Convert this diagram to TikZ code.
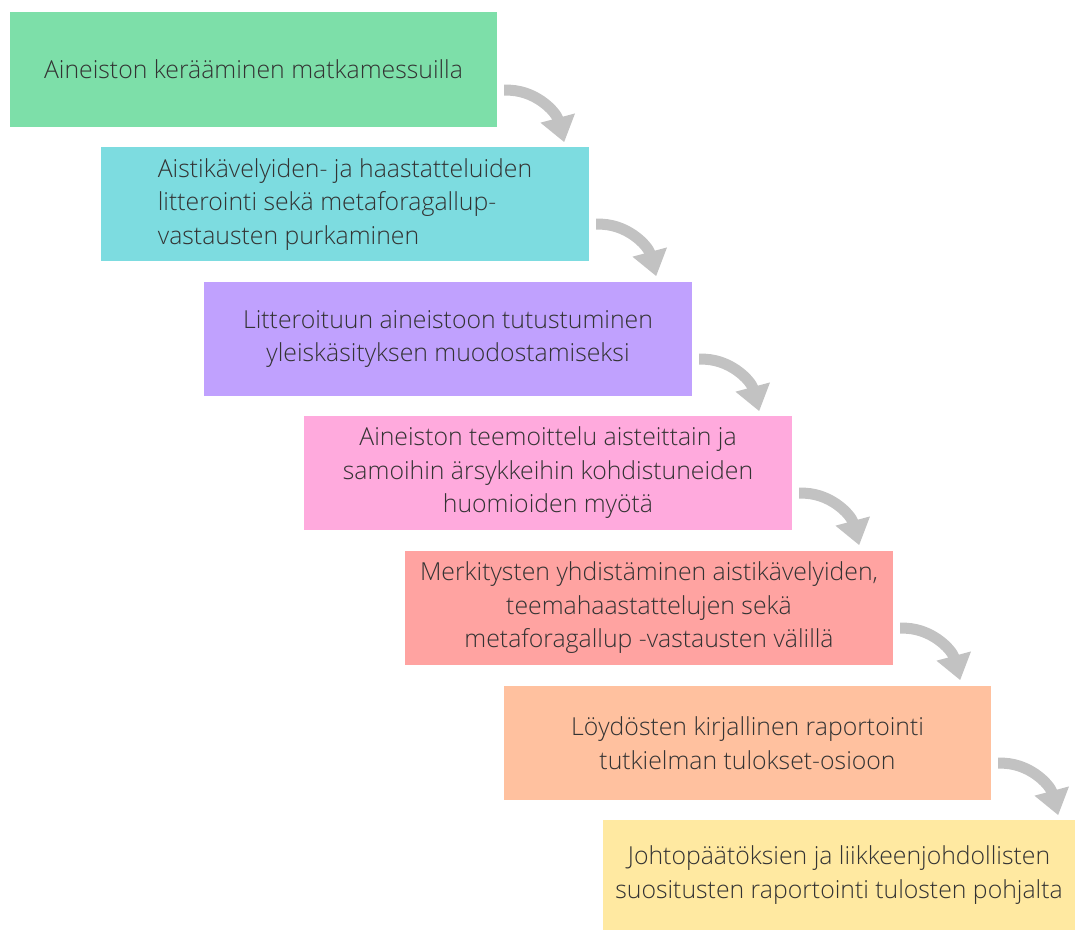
\documentclass[tikz,border=0pt]{standalone}
\usepackage{fontspec}
\setmainfont{Open Sans}[UprightFont={* Light}]
\usetikzlibrary{arrows.meta,calc}
\definecolor{cA}{HTML}{7DDFA9}
\definecolor{cB}{HTML}{7DDCE0}
\definecolor{cC}{HTML}{C0A1FE}
\definecolor{cD}{HTML}{FFAADD}
\definecolor{cE}{HTML}{FFA3A1}
\definecolor{cF}{HTML}{FFC19F}
\definecolor{cG}{HTML}{FFE9A1}
\definecolor{txt}{HTML}{333333}
\definecolor{arrc}{HTML}{C2C2C2}
\begin{document}
\begin{tikzpicture}[x=1pt,y=1pt,
  stepbox/.style={rectangle,inner sep=0pt,minimum width=488pt,minimum height=114pt,
    text=txt,font=\fontsize{24.8}{33.5}\selectfont,align=center},
  arr/.style={arrc,line width=11pt,-{Triangle[width=34pt,length=25pt]}}]
\useasboundingbox (0,0) rectangle (1077,-930);
\node[stepbox,fill=cA,minimum width=487pt,minimum height=115pt] (b1) at (253.5,-69.5) {Aineiston kerääminen matkamessuilla};
\node[stepbox,fill=cB] (b2) at (345,-204) {\begin{tabular}{@{}l@{}}Aistikävelyiden- ja haastatteluiden\\litterointi sekä metaforagallup-\\vastausten purkaminen\end{tabular}};
\node[stepbox,fill=cC] (b3) at (448,-339) {Litteroituun aineistoon tutustuminen\\yleiskäsityksen muodostamiseksi};
\node[stepbox,fill=cD] (b4) at (548,-473) {Aineiston teemoittelu aisteittain ja\\samoihin ärsykkeihin kohdistuneiden\\huomioiden myötä};
\node[stepbox,fill=cE] (b5) at (649,-608) {Merkitysten yhdistäminen aistikävelyiden,\\teemahaastattelujen sekä\\metaforagallup -vastausten välillä};
\node[stepbox,fill=cF,minimum width=487pt] (b6) at (747.5,-743) {Löydösten kirjallinen raportointi\\tutkielman tulokset-osioon};
\node[stepbox,fill=cG,minimum width=472pt,minimum height=110pt] (b7) at (839,-875) {Johtopäätöksien ja liikkeenjohdollisten\\suositusten raportointi tulosten pohjalta};
\foreach \i in {1,...,6}{
  \coordinate (s\i) at ($(b\i.south east)+(7,37)$);
  \coordinate (e\i) at ($(b\i.south east)+(67,-15)$);
  \draw[arr] (s\i) to[out=3,in=105] (e\i);
}
\end{tikzpicture}
\end{document}
